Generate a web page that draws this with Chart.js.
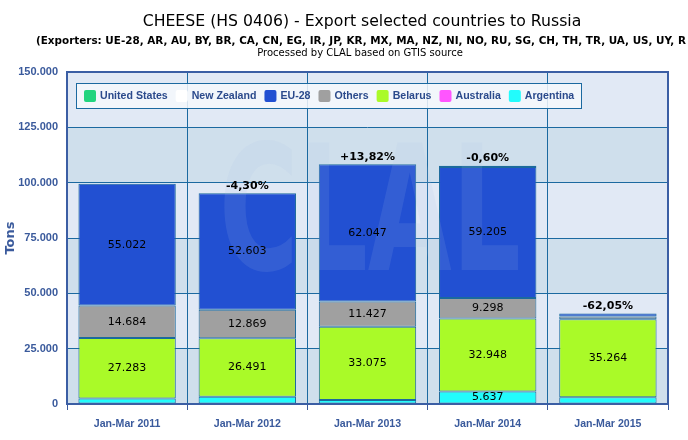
<!DOCTYPE html>
<html>
<head>
<meta charset="utf-8">
<script src="https://cdn.jsdelivr.net/npm/chart.js@4"></script>
<style>
  html, body { margin: 0; padding: 0; background: #fff; }
  #wrap { width: 688px; height: 440px; }
</style>
</head>
<body>
<div id="wrap"><canvas id="chart" width="688" height="440"></canvas></div>
<script>
const periods = ['Jan-Mar 2011', 'Jan-Mar 2012', 'Jan-Mar 2013', 'Jan-Mar 2014', 'Jan-Mar 2015'];
// tons, stacked bottom -> top
const argentina = [2500, 3250, 1820, 5637, 3000];
const australia = [null, null, null, null, null];
const belarus = [27283, 26491, 33075, 32948, 35264];
const others = [14684, 12869, 11427, 9298, 1300];
const eu28 = [55022, 52603, 62047, 59205, 1300];
const newZealand = [null, null, null, null, null];
const unitedStates = [null, null, null, 600, null];
const changes = ['', '-4,30%', '+13,82%', '-0,60%', '-62,05%'];
const yTicks = [0, 25000, 50000, 75000, 100000, 125000, 150000];

const titleText = 'CHEESE (HS 0406) - Export selected countries to Russia';
const exportersText = '(Exporters: UE-28, AR, AU, BY, BR, CA, CN, EG, IR, JP, KR, MX, MA, NZ, NI, NO, RU, SG, CH, TH, TR, UA, US, UY, R';
const sourceText = 'Processed by CLAL based on GTIS source';

const axisBlue = '#3a5a9c';
const gridBlue = '#1b69a0';
const fmt = (v) => v.toLocaleString('de-DE');

const headerPlugin = {
  id: 'header',
  afterDraw(chart) {
    const ctx = chart.ctx;
    ctx.save();
    ctx.fillStyle = '#000';
    ctx.textBaseline = 'middle';
    ctx.textAlign = 'center';
    ctx.font = '15.7px "DejaVu Sans"';
    ctx.fillText(titleText, 362, 22);
    ctx.textAlign = 'left';
    ctx.font = 'bold 10.4px "DejaVu Sans"';
    ctx.fillText(exportersText, 36, 41);
    ctx.textAlign = 'center';
    ctx.font = '10px "DejaVu Sans"';
    ctx.fillText(sourceText, 360, 53);
    ctx.restore();
  }
};

// alternating bands behind the grid, frame on top
const bandsPlugin = {
  id: 'bands',
  beforeDraw(chart) {
    const {ctx, chartArea: a, scales: {y}} = chart;
    ctx.save();
    for (let i = 0; i < yTicks.length - 1; i++) {
      const top = y.getPixelForValue(yTicks[i + 1]);
      const bot = y.getPixelForValue(yTicks[i]);
      ctx.fillStyle = i % 2 === 0 ? '#cfdfec' : '#e1e9f5';
      ctx.fillRect(a.left, top, a.right - a.left, bot - top);
    }
    ctx.restore();
  },
  afterDraw(chart) {
    const {ctx, chartArea: a} = chart;
    ctx.save();
    ctx.strokeStyle = '#3b5ea4';
    ctx.lineWidth = 2;
    ctx.strokeRect(a.left, a.top, a.right - a.left, a.bottom - a.top);
    ctx.restore();
  }
};

// faint logo across the plot
const watermarkPlugin = {
  id: 'watermark',
  afterDatasetsDraw(chart) {
    const {ctx, chartArea: a} = chart;
    ctx.save();
    ctx.beginPath();
    ctx.rect(a.left, a.top, a.right - a.left, a.bottom - a.top);
    ctx.clip();
    ctx.fillStyle = 'rgba(170,195,235,0.13)';
    ctx.font = 'bold 175px "DejaVu Sans"';
    ctx.textAlign = 'center';
    ctx.textBaseline = 'middle';
    ctx.translate(370, 225);
    ctx.scale(0.62, 1);
    ctx.fillText('CLAL', 0, 0);
    ctx.restore();
  }
};

const legendPlugin = {
  id: 'boxLegend',
  afterDatasetsDraw(chart) {
    const ctx = chart.ctx;
    const items = chart.data.datasets.slice().reverse();
    ctx.save();
    ctx.fillStyle = 'rgba(245,248,252,0.85)';
    ctx.fillRect(76, 83, 505, 25);
    ctx.strokeStyle = gridBlue;
    ctx.lineWidth = 1;
    ctx.strokeRect(76.5, 83.5, 505, 25);
    ctx.font = 'bold 10.6px "Liberation Sans"';
    ctx.textBaseline = 'middle';
    let x = 84;
    items.forEach(ds => {
      ctx.fillStyle = ds.legendColor;
      ctx.beginPath();
      ctx.roundRect(x, 90, 12, 12, 2);
      ctx.fill();
      ctx.fillStyle = '#2b4a8c';
      ctx.fillText(ds.label, x + 16, 96.5);
      x += 16 + ctx.measureText(ds.label).width + 8;
    });
    ctx.restore();
  }
};

const labelsPlugin = {
  id: 'valueLabels',
  afterDatasetsDraw(chart) {
    const ctx = chart.ctx;
    ctx.save();
    ctx.textAlign = 'center';
    ctx.textBaseline = 'middle';
    ctx.fillStyle = '#000';
    ctx.font = '11px "DejaVu Sans"';
    chart.data.datasets.forEach((ds, di) => {
      const meta = chart.getDatasetMeta(di);
      meta.data.forEach((bar, i) => {
        const v = ds.data[i];
        if (v == null || v < 5000) return;
        const p = bar.getProps(['x', 'y', 'base'], true);
        ctx.fillText(fmt(v), p.x, (p.y + p.base) / 2);
      });
    });
    // change vs previous period, above each stack
    const last = chart.getDatasetMeta(chart.data.datasets.length - 1);
    ctx.font = 'bold 11px "DejaVu Sans"';
    ctx.textBaseline = 'bottom';
    const y = chart.scales.y;
    periods.forEach((p, i) => {
      if (!changes[i]) return;
      let total = 0;
      chart.data.datasets.forEach(ds => { total += ds.data[i] || 0; });
      ctx.fillText(changes[i], last.data[i].x, y.getPixelForValue(total) - 2);
    });
    ctx.restore();
  }
};

function series(label, data, color) {
  return {
    label,
    data,
    legendColor: color,
    backgroundColor: color,
    borderColor: '#1b6a9c',
    borderWidth: 1,
    borderSkipped: false,
    barPercentage: 0.81,
    categoryPercentage: 1
  };
}

new Chart(document.getElementById('chart'), {
  type: 'bar',
  data: {
    labels: periods,
    datasets: [
      series('Argentina', argentina, '#22fcfc'),
      series('Australia', australia, '#ff55ff'),
      series('Belarus', belarus, '#aafa28'),
      series('Others', others, '#a0a0a0'),
      series('EU-28', eu28, '#2250d2'),
      series('New Zealand', newZealand, '#ffffff'),
      series('United States', unitedStates, '#22d47e')
    ]
  },
  options: {
    responsive: false,
    animation: false,
    layout: { padding: { top: 72, right: 20, left: 0, bottom: 0 } },
    plugins: {
      legend: { display: false },
      title: { display: false },
      tooltip: { enabled: false }
    },
    scales: {
      x: {
        stacked: true,
        afterFit(s) { s.height = 36; },
        grid: { color: gridBlue, offset: true, tickLength: 6, tickColor: axisBlue },
        border: { display: false },
        ticks: { color: axisBlue, font: { family: 'Liberation Sans', size: 10.6, weight: 'bold' }, padding: 8 }
      },
      y: {
        stacked: true,
        min: 0,
        max: 150000,
        afterFit(s) { s.width = 67; },
        grid: { color: gridBlue, drawTicks: false },
        border: { display: false },
        ticks: {
          stepSize: 25000,
          color: axisBlue,
          padding: 9,
          font: { family: 'Liberation Sans', size: 11, weight: 'bold' },
          callback: (v) => fmt(v)
        },
        title: {
          display: true,
          text: 'Tons',
          color: axisBlue,
          font: { family: 'DejaVu Sans', size: 13, weight: 'bold' },
          padding: { top: 3, bottom: 0 }
        }
      }
    }
  },
  plugins: [bandsPlugin, watermarkPlugin, labelsPlugin, legendPlugin, headerPlugin]
});
</script>
</body>
</html>
